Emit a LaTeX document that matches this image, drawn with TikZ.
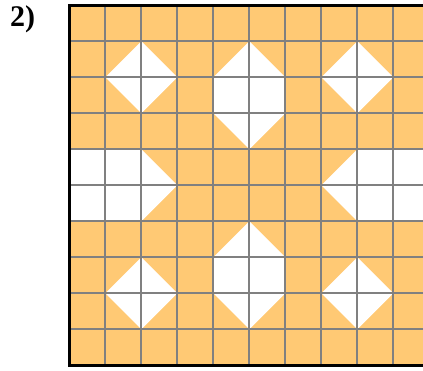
\documentclass[tikz,border=0pt]{standalone}
\usepackage{fontspec}
\setmainfont{Liberation Serif}
\definecolor{tileorange}{RGB}{255,201,116}
\definecolor{gridgray}{RGB}{128,128,128}
\begin{document}
\begin{tikzpicture}[x=1pt,y=-1pt,
  whitepart/.style={fill=white},
  gridline/.style={draw=gridgray,line width=2pt},
  borderline/.style={draw=black,line width=2.6pt}]
\useasboundingbox (0,0) rectangle (423,371);
\node[anchor=north west,inner sep=0pt,font=\bfseries\fontsize{30}{32}\selectfont] (lab) at (10,5) {2)};
\begin{scope}
\clip (0,0) rectangle (423,371);
\begin{scope}[shift={(69.3,5.3)},x=36pt,y=-36pt]
  \fill[tileorange] (0,0) rectangle (10,10);
  % top row shapes
  \fill[whitepart] (2,1) -- (3,2) -- (2,3) -- (1,2) -- cycle;
  \fill[whitepart] (5,1) -- (6,2) -- (6,3) -- (5,4) -- (4,3) -- (4,2) -- cycle;
  \fill[whitepart] (8,1) -- (9,2) -- (8,3) -- (7,2) -- cycle;
  % middle row shapes
  \fill[whitepart] (0,4) -- (2,4) -- (3,5) -- (2,6) -- (0,6) -- cycle;
  \fill[whitepart] (10.5,4) -- (8,4) -- (7,5) -- (8,6) -- (10.5,6) -- cycle;
  % bottom row shapes
  \fill[whitepart] (2,7) -- (3,8) -- (2,9) -- (1,8) -- cycle;
  \fill[whitepart] (5,6) -- (6,7) -- (6,8) -- (5,9) -- (4,8) -- (4,7) -- cycle;
  \fill[whitepart] (8,7) -- (9,8) -- (8,9) -- (7,8) -- cycle;
  % grid
  \foreach \i in {1,...,9} {
    \draw[gridline] (\i,0) -- (\i,10);
    \draw[gridline] (0,\i) -- (10.5,\i);
  }
  % borders
  \draw[borderline] (10.5,0) -- (0,0) -- (0,10) -- (10.5,10);
\end{scope}
\end{scope}
\end{tikzpicture}
\end{document}
